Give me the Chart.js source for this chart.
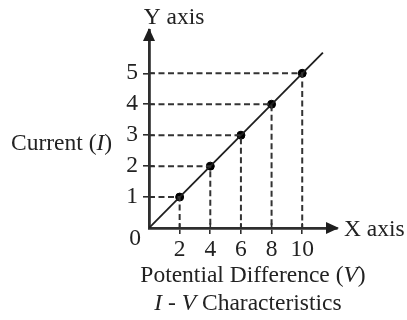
<!DOCTYPE html>
<html>
<head>
<meta charset="utf-8">
<script src="https://cdn.jsdelivr.net/npm/chart.js@4.4.1/dist/chart.umd.min.js"></script>
<style>
  html, body { margin: 0; padding: 0; background: #fff; }
  #wrap { width: 407px; height: 320px; position: relative; }
</style>
</head>
<body>
<div id="wrap"><canvas id="ivChart"></canvas></div>
<script>
// Dados
const voltage = [2, 4, 6, 8, 10];
const current = [1, 2, 3, 4, 5];
const xTicks = [2, 4, 6, 8, 10];
const yTicks = [1, 2, 3, 4, 5];
const lineX = [0, 11.35];
const lineY = [0, 5.67];
const xMax = 12.27;
const yMax = 6.4;

const ink = '#1e1e1e';
const axisInk = '#2e2e2e';
const dashInk = '#333';
const serif = "'Liberation Serif', 'DejaVu Serif', serif";
const fontSize = 23.5;

// linhas tracejadas: de cada ponto até os eixos
const dashSets = voltage.map((v, i) => ({
    type: 'line',
    data: [{ x: 0, y: current[i] }, { x: v, y: current[i] }, { x: v, y: 0 }],
    borderColor: dashInk,
    borderWidth: 2,
    borderDash: [6, 3.5],
    pointRadius: 0,
    fill: false
}));

// texto com partes em itálico
function drawMixed(ctx, parts, cx, cy, align) {
    let total = 0;
    parts.forEach(p => {
        ctx.font = (p.italic ? 'italic ' : '') + fontSize + 'px ' + serif;
        p.w = ctx.measureText(p.text).width;
        total += p.w;
    });
    let x = align === 'left' ? cx : cx - total / 2;
    parts.forEach(p => {
        ctx.font = (p.italic ? 'italic ' : '') + fontSize + 'px ' + serif;
        ctx.fillText(p.text, x, cy);
        x += p.w;
    });
}

const decorPlugin = {
    id: 'decor',
    afterDraw(chart) {
        const ctx = chart.ctx;
        const a = chart.chartArea;
        const xs = chart.scales.x;
        const ys = chart.scales.y;
        ctx.save();
        // parte interna das marcas dos eixos
        ctx.strokeStyle = axisInk;
        ctx.lineWidth = 1.6;
        ctx.beginPath();
        xTicks.forEach(v => {
            const px = xs.getPixelForValue(v);
            ctx.moveTo(px, a.bottom);
            ctx.lineTo(px, a.bottom - 5);
        });
        yTicks.forEach(v => {
            const py = ys.getPixelForValue(v);
            ctx.moveTo(a.left, py);
            ctx.lineTo(a.left + 5, py);
        });
        ctx.stroke();

        // setas dos eixos
        ctx.fillStyle = ink;
        ctx.beginPath();
        ctx.moveTo(a.left, a.top - 2);
        ctx.lineTo(a.left - 6, a.top + 11);
        ctx.lineTo(a.left + 6, a.top + 11);
        ctx.closePath();
        ctx.fill();
        ctx.beginPath();
        ctx.moveTo(a.right + 2, a.bottom);
        ctx.lineTo(a.right - 11, a.bottom - 6);
        ctx.lineTo(a.right - 11, a.bottom + 6);
        ctx.closePath();
        ctx.fill();

        ctx.fillStyle = '#222';
        ctx.textBaseline = 'middle';
        drawMixed(ctx, [{ text: 'Y axis' }], a.left + 25, 18, 'center');
        drawMixed(ctx, [{ text: 'X axis' }], a.right + 7, a.bottom + 2, 'left');
        drawMixed(ctx, [{ text: '0' }], a.left - 14, a.bottom + 11, 'center');
        drawMixed(ctx, [{ text: 'Current (' }, { text: 'I', italic: true }, { text: ')' }], 11, 144, 'left');
        drawMixed(ctx, [{ text: 'Potential Difference (' }, { text: 'V', italic: true }, { text: ')' }], 253, 276, 'center');
        drawMixed(ctx, [{ text: 'I', italic: true }, { text: ' - ' }, { text: 'V', italic: true }, { text: ' Characteristics' }], 248, 304, 'center');
        ctx.restore();
    }
};

const ivChart = new Chart(document.getElementById('ivChart').getContext('2d'), {
    type: 'scatter',
    data: {
        datasets: [
            ...dashSets,
            {
                type: 'line',
                data: lineX.map((x, i) => ({ x: x, y: lineY[i] })),
                borderColor: ink,
                borderWidth: 1.8,
                pointRadius: 0,
                fill: false
            },
            {
                data: voltage.map((v, i) => ({ x: v, y: current[i] })),
                backgroundColor: '#000',
                borderColor: '#000',
                pointRadius: 4,
                pointHoverRadius: 4
            }
        ]
    },
    options: {
        responsive: true,
        maintainAspectRatio: false,
        animation: false,
        events: [],
        layout: { padding: { left: 0, top: 30, right: 70, bottom: 0 } },
        plugins: { legend: { display: false }, tooltip: { enabled: false } },
        scales: {
            x: {
                type: 'linear',
                min: 0,
                max: xMax,
                afterBuildTicks: s => { s.ticks = xTicks.map(v => ({ value: v })); },
                afterFit: s => { s.height = 92; },
                grid: { drawOnChartArea: false, drawTicks: true, tickLength: 6, color: axisInk, lineWidth: 1.6 },
                border: { display: true, color: axisInk, width: 2.8 },
                ticks: { color: '#222', padding: 2, maxRotation: 0, autoSkip: false, font: { family: serif, size: fontSize } }
            },
            y: {
                type: 'linear',
                min: 0,
                max: yMax,
                afterBuildTicks: s => { s.ticks = yTicks.map(v => ({ value: v })); },
                afterFit: s => { s.width = 149; },
                grid: { drawOnChartArea: false, drawTicks: true, tickLength: 6, color: axisInk, lineWidth: 1.6 },
                border: { display: true, color: axisInk, width: 2.8 },
                ticks: { color: '#222', padding: 5, autoSkip: false, font: { family: serif, size: fontSize } }
            }
        }
    },
    plugins: [decorPlugin]
});
</script>
</body>
</html>
